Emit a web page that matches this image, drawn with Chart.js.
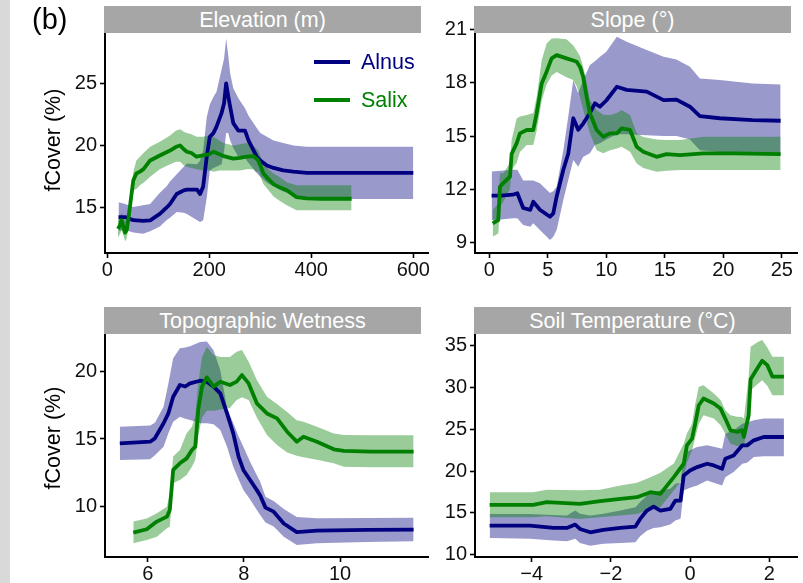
<!DOCTYPE html>
<html>
<head>
<meta charset="utf-8">
<title>fCover partial responses</title>
<script src="https://cdn.jsdelivr.net/npm/chart.js@4.4.1/dist/chart.umd.min.js"></script>
<style>
  html, body { margin: 0; padding: 0; background: #fff; }
  #page { position: relative; width: 803px; height: 583px; overflow: hidden;
          font-family: 'Liberation Sans', Arial, sans-serif; }
  .edge { position: absolute; left: 0; top: 0; width: 10px; height: 583px; background: #d9d9d9; }
  canvas { position: absolute; }
  .strip { position: absolute; height: 27px; background: #a6a6a6; color: #fff;
           font-size: 21.5px; line-height: 28px; text-align: center; white-space: nowrap; }
  .tag { position: absolute; left: 32px; top: 3px; font-size: 29px; color: #000; }
  .ylab { position: absolute; width: 140px; height: 24px; line-height: 24px; text-align: center;
          font-size: 21.5px; color: #000; transform: rotate(-90deg); white-space: nowrap; }
  .key { position: absolute; height: 4px; width: 36px; left: 314px; }
  .keytxt { position: absolute; left: 361px; font-size: 21.5px; line-height: 24px; }
</style>
</head>
<body>
<div id="page">
  <div class="edge"></div>
  <canvas id="cElev"></canvas>
  <canvas id="cSlope"></canvas>
  <canvas id="cTwi"></canvas>
  <canvas id="cSoil"></canvas>

  <div class="strip" style="left:104px; top:6px; width:317px;">Elevation (m)</div>
  <div class="strip" style="left:474px; top:6px; width:317px;">Slope (°)</div>
  <div class="strip" style="left:104px; top:307px; width:317px;">Topographic Wetness</div>
  <div class="strip" style="left:474px; top:307px; width:317px;">Soil Temperature (°C)</div>

  <div class="tag">(b)</div>
  <div class="ylab" style="left:-17px; top:128px;">fCover (%)</div>
  <div class="ylab" style="left:-17px; top:426px;">fCover (%)</div>

  <div class="key" style="top:60px; background:#000080;"></div>
  <div class="keytxt" style="top:50px; color:#000080;">Alnus</div>
  <div class="key" style="top:98px; background:#008000;"></div>
  <div class="keytxt" style="top:88px; color:#008000;">Salix</div>
</div>

<script>
// ---------- Elevation (m) ----------
const elevTicksX = [0, 200, 400, 600];
const elevTicksY = [15, 20, 25];
const elevAlnusX    = [22, 35, 51, 70, 84, 103, 116, 123, 136, 150, 156, 176, 182, 188, 195, 201, 208, 214, 224, 229, 233, 237, 241, 247, 257, 270, 277, 293, 300, 313, 326, 345, 365, 391, 450, 520, 600];
const elevAlnusMean = [14.25, 14.25, 14.0, 13.95, 13.98, 14.5, 15.0, 15.3, 16.1, 16.4, 16.45, 16.45, 16.1, 16.7, 19.1, 20.7, 21.0, 21.5, 22.6, 23.4, 25.0, 24.0, 23.1, 21.8, 21.2, 21.2, 20.4, 19.1, 18.8, 18.4, 18.2, 18.0, 17.9, 17.8, 17.8, 17.8, 17.8];
const elevAlnusHigh = [15.45, 15.3, 15.05, 15.2, 15.3, 16.2, 16.7, 17.1, 17.7, 18.3, 18.55, 18.5, 18.8, 19.6, 22.3, 23.3, 23.9, 24.3, 26.1, 27.0, 28.6, 27.3, 25.8, 24.6, 23.8, 23.0, 22.4, 21.4, 21.0, 20.7, 20.4, 20.2, 20.0, 19.9, 19.9, 19.9, 19.9];
const elevAlnusLow  = [13.15, 13.2, 13.0, 12.9, 13.1, 13.5, 14.0, 14.2, 14.65, 14.6, 14.5, 14.0, 13.85, 14.0, 15.8, 18.0, 18.2, 18.3, 18.5, 19.5, 21.0, 21.0, 20.4, 19.8, 19.1, 19.0, 18.6, 17.8, 17.5, 17.0, 16.7, 16.3, 16.0, 15.75, 15.7, 15.7, 15.7];
const elevSalixX    = [21, 25, 28, 32, 35, 38, 41, 46, 51, 57, 64, 71, 84, 103, 123, 135, 143, 150, 156, 165, 175, 188, 200, 208, 220, 228, 247, 260, 273, 286, 291, 296, 301, 306, 316, 326, 340, 352, 371, 390, 420, 450, 479];
const elevSalixMean = [13.3, 13.6, 14.0, 13.4, 13.0, 13.2, 14.0, 15.6, 17.2, 17.75, 17.9, 18.1, 18.8, 19.2, 19.6, 19.9, 20.0, 19.7, 19.5, 19.4, 19.1, 19.2, 19.3, 19.5, 19.3, 19.15, 18.95, 19.0, 19.1, 19.15, 19.0, 18.8, 18.3, 17.75, 17.3, 16.9, 16.6, 16.4, 15.85, 15.75, 15.72, 15.72, 15.72];
const elevSalixHigh = [14.0, 14.3, 14.6, 14.2, 13.9, 14.1, 14.8, 16.4, 17.9, 18.8, 19.1, 19.4, 19.9, 20.3, 20.8, 21.2, 21.3, 21.1, 21.0, 20.9, 20.7, 20.7, 20.8, 20.7, 20.4, 20.2, 20.0, 20.1, 20.2, 20.0, 19.8, 19.6, 19.1, 18.55, 18.1, 17.75, 17.4, 17.05, 16.8, 16.8, 16.8, 16.8, 16.8];
const elevSalixLow  = [12.6, 12.9, 13.2, 12.7, 12.3, 12.5, 13.2, 14.8, 16.4, 16.5, 16.8, 17.0, 17.5, 18.1, 18.5, 18.7, 18.7, 18.4, 18.3, 18.2, 18.1, 18.0, 18.0, 17.9, 18.0, 18.0, 18.0, 18.0, 18.1, 18.1, 17.9, 17.9, 17.4, 16.9, 16.4, 15.9, 15.5, 15.2, 14.8, 14.8, 14.8, 14.8, 14.8];

// ---------- Slope (°) ----------
const slopeTicksX = [0, 5, 10, 15, 20, 25];
const slopeTicksY = [9, 12, 15, 18, 21];
const slopeAlnusX    = [0.2, 1.0, 2.0, 2.4, 2.9, 3.5, 3.76, 4.33, 5.19, 5.47, 5.76, 6.33, 6.75, 7.18, 7.6, 8.03, 8.6, 9.03, 9.46, 10.0, 10.9, 11.74, 13.45, 14.9, 16.0, 17.15, 18.0, 19.7, 22.5, 24.9];
const slopeAlnusMean = [11.65, 11.65, 11.7, 11.78, 10.95, 10.85, 11.3, 10.85, 10.46, 10.65, 11.6, 13.1, 14.0, 16.0, 15.35, 15.7, 16.3, 16.84, 16.65, 17.0, 17.77, 17.6, 17.5, 17.02, 17.05, 16.65, 16.12, 16.0, 15.9, 15.86];
const slopeAlnusHigh = [13.0, 13.05, 13.1, 13.1, 12.5, 12.5, 12.5, 12.34, 11.8, 11.9, 12.15, 14.2, 16.1, 18.15, 17.4, 18.15, 19.0, 19.2, 19.46, 19.74, 20.58, 20.3, 19.84, 19.46, 19.31, 18.9, 18.24, 18.15, 17.95, 17.9];
const slopeAlnusLow  = [10.27, 10.3, 10.37, 10.37, 9.99, 9.9, 10.1, 9.71, 9.15, 9.33, 9.71, 11.4, 12.52, 13.65, 13.27, 13.83, 14.03, 14.49, 14.6, 14.8, 15.1, 15.1, 15.05, 15.0, 15.0, 14.8, 14.2, 14.1, 14.05, 14.0];
const slopeSalixX    = [0.29, 0.77, 0.91, 1.2, 1.77, 1.91, 2.34, 2.62, 3.2, 3.76, 4.05, 4.48, 4.9, 5.33, 5.76, 6.6, 7.18, 7.47, 7.75, 8.03, 8.32, 8.6, 9.18, 9.74, 10.32, 10.9, 11.31, 12.03, 12.6, 13.16, 14.3, 15.16, 16.3, 18.3, 21.0, 24.9];
const slopeSalixMean = [10.09, 10.27, 12.15, 12.35, 12.71, 14.0, 14.59, 15.15, 15.34, 15.34, 16.28, 17.96, 18.62, 19.37, 19.55, 19.37, 19.25, 19.18, 18.9, 18.33, 17.21, 16.28, 15.34, 14.96, 15.15, 15.15, 15.43, 15.34, 14.4, 14.12, 13.83, 13.98, 13.93, 14.03, 14.02, 13.98];
const slopeSalixHigh = [10.84, 11.2, 12.9, 12.9, 13.5, 14.77, 15.99, 16.1, 16.18, 16.3, 17.2, 19.27, 20.2, 20.49, 20.5, 20.44, 20.1, 19.8, 19.5, 18.9, 18.0, 17.02, 16.46, 16.2, 16.18, 16.3, 16.46, 16.18, 15.15, 14.95, 14.81, 14.78, 14.77, 14.96, 14.96, 14.96];
const slopeSalixLow  = [9.33, 9.52, 11.0, 11.3, 12.0, 13.1, 13.5, 14.1, 14.5, 14.5, 15.3, 17.0, 17.9, 18.4, 18.6, 18.3, 18.15, 17.8, 17.2, 16.46, 15.8, 15.15, 14.2, 14.03, 14.2, 14.3, 14.4, 14.12, 13.46, 13.2, 12.99, 13.05, 13.09, 13.09, 13.09, 13.09];

// ---------- Topographic Wetness ----------
const twiTicksX = [6, 8, 10];
const twiTicksY = [10, 15, 20];
const twiAlnusX    = [5.42, 6.05, 6.15, 6.33, 6.43, 6.53, 6.67, 6.78, 6.88, 7.09, 7.23, 7.37, 7.51, 7.65, 7.78, 7.89, 7.99, 8.13, 8.27, 8.34, 8.45, 8.62, 8.83, 9.1, 9.52, 10.56, 11.53];
const twiAlnusMean = [14.68, 14.8, 15.05, 16.17, 16.9, 18.14, 19.01, 18.9, 19.13, 19.33, 19.25, 18.89, 18.39, 16.9, 15.42, 13.69, 12.7, 11.95, 11.2, 10.8, 9.9, 9.6, 8.72, 8.08, 8.19, 8.25, 8.27];
const twiAlnusHigh = [15.91, 16.0, 16.2, 17.4, 19.13, 21.0, 21.74, 21.8, 21.9, 22.2, 22.25, 21.6, 20.1, 17.3, 16.17, 15.2, 14.43, 13.3, 12.3, 11.83, 10.7, 10.4, 9.8, 9.2, 9.11, 9.13, 9.15];
const twiAlnusLow  = [13.44, 13.5, 13.8, 14.43, 15.42, 16.28, 16.66, 16.5, 16.41, 16.17, 16.17, 16.1, 15.67, 14.43, 12.94, 12.0, 11.21, 10.5, 9.73, 9.35, 8.8, 8.5, 7.74, 7.13, 7.25, 7.35, 7.4];
const twiSalixX    = [5.7, 5.98, 6.19, 6.4, 6.46, 6.53, 6.67, 6.81, 6.92, 6.99, 7.05, 7.13, 7.23, 7.37, 7.51, 7.71, 7.85, 7.96, 8.1, 8.27, 8.48, 8.69, 8.9, 9.1, 9.24, 9.52, 9.87, 10.08, 10.63, 11.53];
const twiSalixMean = [8.04, 8.29, 8.86, 9.23, 9.73, 12.7, 13.19, 13.56, 14.18, 14.43, 17.15, 18.89, 19.58, 18.89, 19.26, 19.01, 19.26, 19.75, 19.13, 17.65, 16.9, 16.53, 15.54, 14.8, 15.17, 14.8, 14.23, 14.11, 14.06, 14.06];
const twiSalixHigh = [8.86, 9.1, 9.48, 9.97, 10.97, 13.69, 14.18, 15.42, 15.91, 16.66, 19.13, 21.1, 21.86, 21.24, 21.1, 21.1, 21.49, 21.61, 20.74, 19.38, 18.14, 17.6, 17.0, 16.4, 16.28, 15.91, 15.4, 15.3, 15.27, 15.27];
const twiSalixLow  = [7.25, 7.5, 7.74, 8.36, 8.48, 11.71, 11.95, 12.33, 12.94, 13.44, 15.2, 16.6, 17.1, 17.1, 17.2, 17.3, 17.9, 18.1, 17.9, 16.6, 15.3, 14.55, 14.0, 13.75, 13.65, 13.45, 13.2, 12.94, 12.9, 12.9];

// ---------- Soil Temperature (°C) ----------
const soilTicksX = [-4, -2, 0, 2];
const soilTicksY = [10, 15, 20, 25, 30, 35];
const soilAlnusX    = [-5.06, -4.04, -3.45, -3.11, -2.9, -2.78, -2.52, -2.19, -1.76, -1.38, -1.26, -1.09, -0.92, -0.75, -0.5, -0.37, -0.24, -0.16, 0.0, 0.18, 0.43, 0.6, 0.81, 0.89, 1.1, 1.32, 1.44, 1.61, 1.86, 2.37];
const soilAlnusMean = [13.48, 13.48, 13.2, 13.2, 13.6, 13.08, 12.68, 12.96, 13.2, 13.36, 14.28, 15.28, 15.76, 15.28, 15.48, 16.48, 16.48, 19.48, 20.08, 20.48, 20.88, 20.68, 20.28, 21.48, 21.88, 23.08, 23.08, 23.68, 24.08, 24.08];
const soilAlnusHigh = [14.88, 14.88, 14.75, 14.68, 15.28, 14.9, 14.68, 14.9, 15.28, 15.68, 16.3, 17.08, 17.5, 17.68, 17.9, 18.48, 18.6, 22.08, 22.5, 22.88, 23.08, 22.9, 22.68, 24.48, 24.9, 25.68, 25.8, 26.08, 26.28, 26.28];
const soilAlnusLow  = [12.0, 11.9, 11.7, 11.6, 11.9, 11.4, 11.08, 11.3, 11.4, 11.48, 12.2, 12.88, 13.2, 13.28, 13.6, 14.08, 14.3, 17.68, 18.0, 18.28, 18.88, 18.6, 18.28, 19.28, 19.9, 20.88, 21.0, 21.68, 21.78, 21.78];
const soilSalixX    = [-5.06, -3.96, -3.62, -2.78, -2.27, -1.76, -1.34, -1.0, -0.75, -0.41, -0.16, -0.08, 0.05, 0.13, 0.22, 0.34, 0.6, 0.77, 0.89, 1.02, 1.19, 1.31, 1.36, 1.48, 1.53, 1.7, 1.82, 1.95, 2.08, 2.37];
const soilSalixMean = [15.96, 15.96, 16.28, 16.08, 16.4, 16.68, 16.88, 17.48, 17.28, 19.28, 20.88, 23.08, 23.88, 25.68, 27.88, 28.68, 28.08, 27.48, 26.28, 24.88, 24.7, 24.88, 24.1, 26.68, 31.0, 32.3, 33.2, 32.68, 31.3, 31.3];
const soilSalixHigh = [17.48, 17.48, 17.76, 17.7, 17.76, 18.28, 18.6, 19.28, 19.8, 20.9, 23.28, 24.5, 25.68, 28.0, 30.08, 30.28, 29.28, 28.5, 27.28, 26.68, 26.5, 26.48, 26.3, 31.28, 34.88, 35.4, 35.68, 34.8, 33.68, 33.68];
const soilSalixLow  = [14.48, 14.48, 14.6, 14.28, 14.48, 14.7, 14.88, 15.48, 15.68, 17.68, 19.28, 21.0, 22.48, 24.0, 25.68, 26.68, 26.28, 25.5, 24.48, 23.28, 23.0, 22.9, 22.88, 26.88, 29.68, 30.4, 30.88, 30.2, 29.08, 29.08];

// ---------- drawing ----------
const ALNUS = { line: '#000080', band: 'rgba(0,0,128,0.4)' };
const SALIX = { line: '#008000', band: 'rgba(0,128,0,0.4)' };
const FONT = "'Liberation Sans', Arial, sans-serif";
const PAD_L = 60, PAD_T = 18, PAD_R = 26, PAD_B = 34;

function pts(xs, ys) { return xs.map((x, i) => ({ x: x, y: ys[i] })); }
const minus = v => String(v).replace('-', '\u2212');

function axis(range, ticks, horizontal) {
  return {
    type: 'linear', min: range[0], max: range[1],
    afterBuildTicks: s => { s.ticks = ticks.map(v => ({ value: v })); },
    afterFit: s => { if (horizontal) s.height = PAD_B; else s.width = PAD_L; },
    grid: { display: true, drawOnChartArea: false, drawTicks: true, tickLength: 5,
            tickWidth: 1.6, tickColor: '#000', color: '#000' },
    border: { display: true, color: '#000', width: 2 },
    ticks: { color: '#111', font: { family: FONT, size: 20 }, padding: horizontal ? 0 : 3,
             maxRotation: 0, autoSkip: false, callback: minus }
  };
}

function panel(id, area, xr, yr, xt, yt, alnus, salix) {
  const cv = document.getElementById(id);
  cv.width = (area.r - area.l) + PAD_L + PAD_R;
  cv.height = (area.b - area.t) + PAD_T + PAD_B;
  cv.style.left = (area.l - PAD_L) + 'px';
  cv.style.top = (area.t - PAD_T) + 'px';
  const band = (g, xs, hi, lo, ord) => [
    { data: pts(xs, hi), fill: '+1', backgroundColor: g.band, borderWidth: 0, pointRadius: 0, order: ord },
    { data: pts(xs, lo), fill: false, borderWidth: 0, pointRadius: 0, order: ord }
  ];
  const line = (g, xs, m, ord) => ({ data: pts(xs, m), fill: false, borderColor: g.line,
    borderWidth: 3.8, pointRadius: 0, order: ord, borderJoinStyle: 'round' });
  new Chart(cv, {
    type: 'line',
    data: { datasets: [
      ...band(ALNUS, alnus.x, alnus.hi, alnus.lo, 4),
      ...band(SALIX, salix.x, salix.hi, salix.lo, 3),
      line(ALNUS, alnus.x, alnus.mean, 2),
      line(SALIX, salix.x, salix.mean, 1)
    ] },
    options: {
      responsive: false, animation: false, devicePixelRatio: 1,
      layout: { padding: { left: 0, top: PAD_T, right: PAD_R, bottom: 0 } },
      elements: { line: { tension: 0 } },
      plugins: { legend: { display: false }, tooltip: { enabled: false } },
      scales: { x: axis(xr, xt, true), y: axis(yr, yt, false) }
    }
  });
}

panel('cElev', { l: 105, r: 428, t: 26, b: 253 }, [-4.5, 628.8], [11.36, 29.61], elevTicksX, elevTicksY,
  { x: elevAlnusX, mean: elevAlnusMean, hi: elevAlnusHigh, lo: elevAlnusLow },
  { x: elevSalixX, mean: elevSalixMean, hi: elevSalixHigh, lo: elevSalixLow });
panel('cSlope', { l: 475, r: 797, t: 26, b: 253 }, [-1.22, 26.3], [8.42, 21.19], slopeTicksX, slopeTicksY,
  { x: slopeAlnusX, mean: slopeAlnusMean, hi: slopeAlnusHigh, lo: slopeAlnusLow },
  { x: slopeSalixX, mean: slopeSalixMean, hi: slopeSalixHigh, lo: slopeSalixLow });
panel('cTwi', { l: 105, r: 428, t: 330, b: 557 }, [5.112, 11.83], [6.23, 23.1], twiTicksX, twiTicksY,
  { x: twiAlnusX, mean: twiAlnusMean, hi: twiAlnusHigh, lo: twiAlnusLow },
  { x: twiSalixX, mean: twiSalixMean, hi: twiSalixHigh, lo: twiSalixLow });
panel('cSoil', { l: 475, r: 797, t: 330, b: 557 }, [-5.43, 2.70], [9.725, 36.88], soilTicksX, soilTicksY,
  { x: soilAlnusX, mean: soilAlnusMean, hi: soilAlnusHigh, lo: soilAlnusLow },
  { x: soilSalixX, mean: soilSalixMean, hi: soilSalixHigh, lo: soilSalixLow });
</script>
</body>
</html>
